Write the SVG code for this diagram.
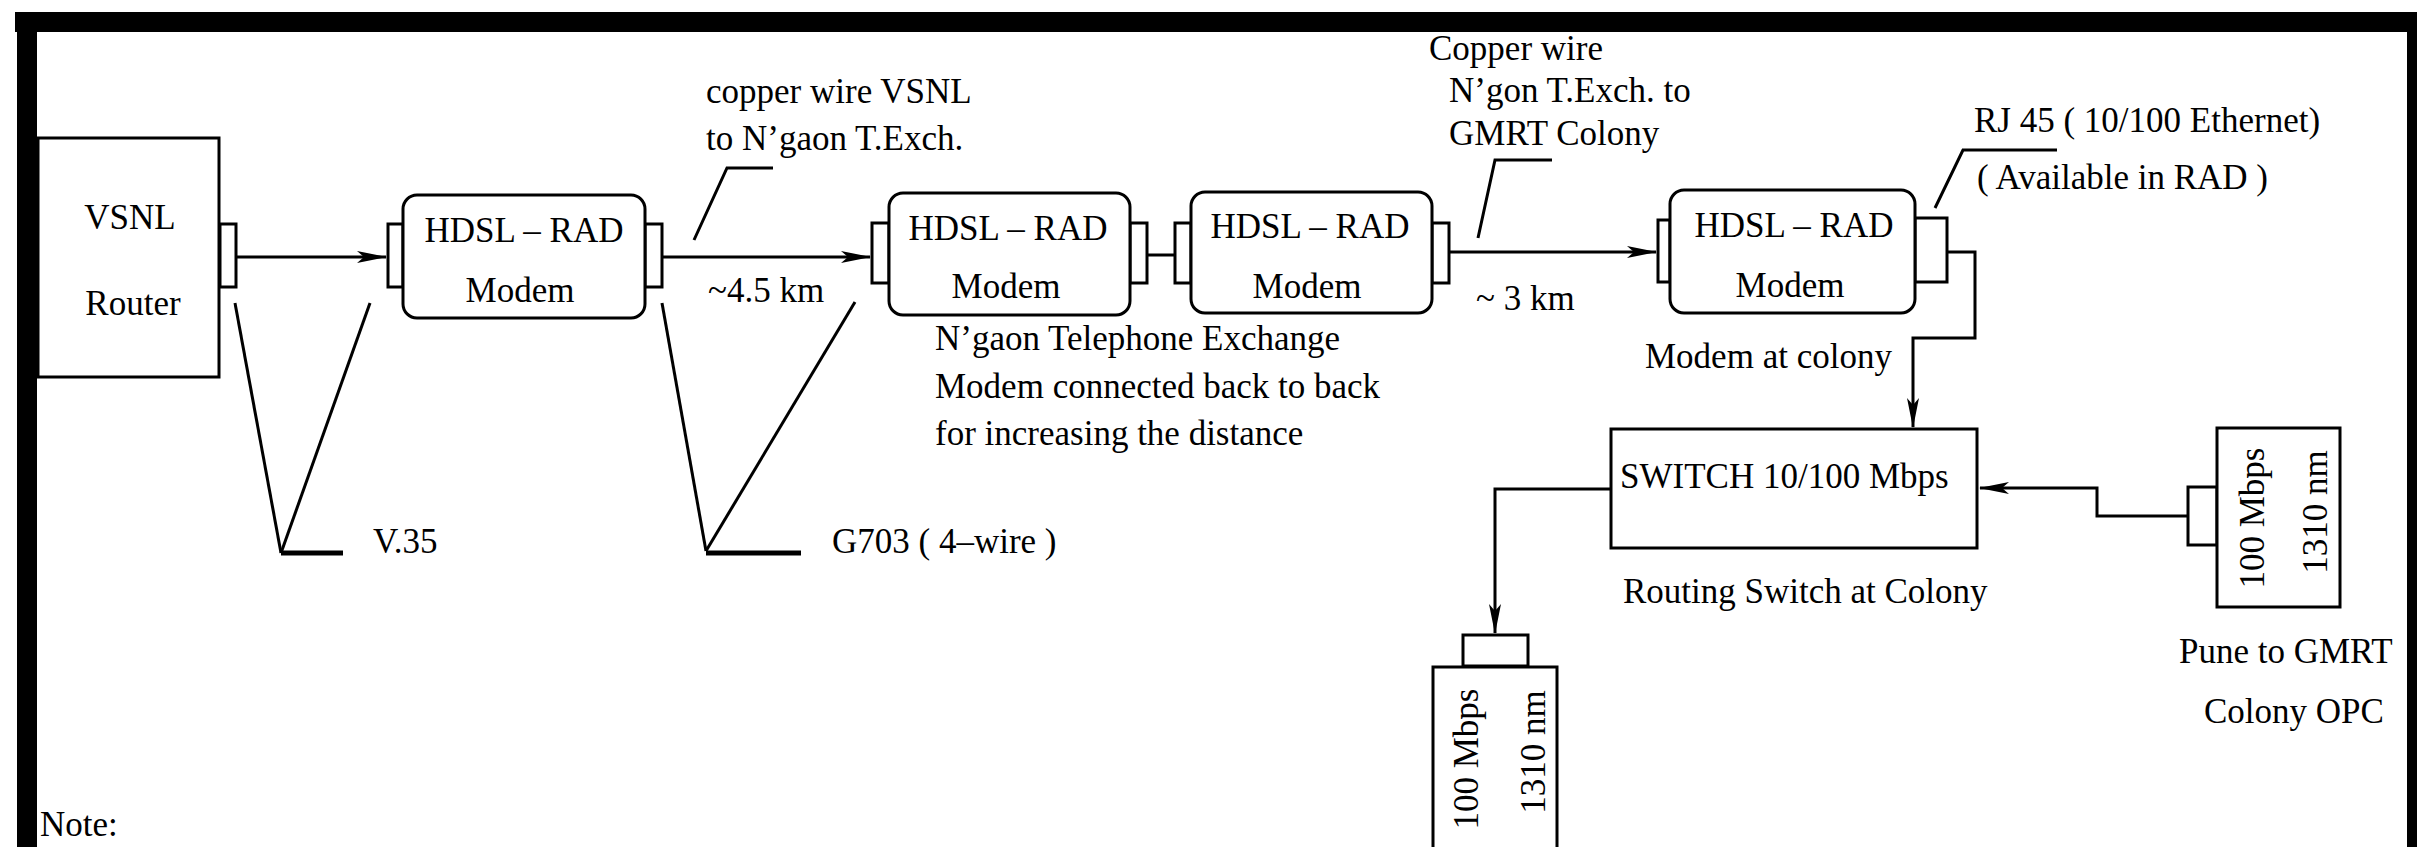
<svg xmlns="http://www.w3.org/2000/svg" width="2417" height="847" viewBox="0 0 2417 847">
<style>
text{font-family:"Liberation Serif","Times New Roman",serif;font-size:35px;fill:#000}
.box{fill:#fff;stroke:#000;stroke-width:3}
.ln{fill:none;stroke:#000;stroke-width:3}
.bold{fill:none;stroke:#000;stroke-width:5}
.mid{text-anchor:middle}
</style>
<defs>
<marker id="ah" markerUnits="userSpaceOnUse" markerWidth="30" markerHeight="14" refX="29" refY="7" orient="auto">
<path d="M0,1 L30,7 L0,13 L7,7 z" fill="#000"/>
</marker>
</defs>
<rect width="2417" height="847" fill="#fff"/>
<g id="frame">
<rect x="15" y="12" width="2402" height="20" fill="#000"/>
<rect x="17" y="12" width="20" height="835" fill="#000"/>
<rect x="2407" y="12" width="10" height="835" fill="#000"/>
</g>
<g id="connectors">
<path class="ln" d="M236,257 H386" marker-end="url(#ah)"/>
<path class="ln" d="M662,257 H870" marker-end="url(#ah)"/>
<path class="ln" d="M1147,255 H1175"/>
<path class="ln" d="M1449,252 H1656" marker-end="url(#ah)"/>
<path class="ln" d="M1947,252 H1975 V338 H1913 V427" marker-end="url(#ah)"/>
<path class="ln" d="M1611,489 H1495 V633" marker-end="url(#ah)"/>
<path class="ln" d="M2188,516 H2097 V488 H1980" marker-end="url(#ah)"/>
<polyline class="ln" points="235,303 281,553"/>
<polyline class="ln" points="370,303 281,553"/>
<polyline class="bold" points="281,553 343,553"/>
<polyline class="ln" points="662,303 706,551"/>
<polyline class="ln" points="855,302 706,551"/>
<polyline class="bold" points="706,553 801,553"/>
<polyline class="ln" points="694,240 727,168 773,168"/>
<polyline class="ln" points="1478,238 1495,160 1552,160"/>
<polyline class="ln" points="1935,208 1963,150 2057,150"/>
</g>
<g id="router">
<rect class="box" x="38" y="138" width="181" height="239"/>
<rect class="box" x="220" y="224" width="16" height="63"/>
<text class="mid" x="130" y="229">VSNL</text>
<text class="mid" x="133" y="315">Router</text>
</g>
<g id="modem1">
<rect class="box" x="388" y="224" width="15" height="63"/>
<rect class="box" x="645" y="224" width="17" height="63"/>
<rect class="box" x="403" y="195" width="242" height="123" rx="14"/>
<text class="mid" x="524" y="242">HDSL – RAD</text>
<text class="mid" x="520" y="302">Modem</text>
</g>
<g id="modem2">
<rect class="box" x="872" y="223" width="17" height="60"/>
<rect class="box" x="1130" y="223" width="17" height="60"/>
<rect class="box" x="889" y="193" width="241" height="122" rx="14"/>
<text class="mid" x="1008" y="240">HDSL – RAD</text>
<text class="mid" x="1006" y="298">Modem</text>
</g>
<g id="modem3">
<rect class="box" x="1175" y="223" width="16" height="60"/>
<rect class="box" x="1432" y="223" width="17" height="60"/>
<rect class="box" x="1191" y="192" width="241" height="121" rx="14"/>
<text class="mid" x="1310" y="238">HDSL – RAD</text>
<text class="mid" x="1307" y="298">Modem</text>
</g>
<g id="modem4">
<rect class="box" x="1658" y="220" width="12" height="62"/>
<rect class="box" x="1915" y="218" width="32" height="64"/>
<rect class="box" x="1670" y="190" width="245" height="123" rx="14"/>
<text class="mid" x="1794" y="237">HDSL – RAD</text>
<text class="mid" x="1790" y="297">Modem</text>
</g>
<g id="switch">
<rect class="box" x="1611" y="429" width="366" height="119"/>
<text x="1620" y="488">SWITCH 10/100 Mbps</text>
</g>
<g id="fiber-right">
<rect class="box" x="2188" y="487" width="29" height="58"/>
<rect class="box" x="2217" y="428" width="123" height="179"/>
<text class="mid" transform="translate(2264,518) rotate(-90)">100 Mbps</text>
<text class="mid" transform="translate(2327,512) rotate(-90)">1310 nm</text>
</g>
<g id="fiber-bottom">
<rect class="box" x="1463" y="635" width="65" height="31"/>
<rect class="box" x="1433" y="667" width="124" height="200"/>
<text class="mid" transform="translate(1478,759) rotate(-90)">100 Mbps</text>
<text class="mid" transform="translate(1545,752) rotate(-90)">1310 nm</text>
</g>
<g id="labels">
<text x="706" y="103">copper wire VSNL</text>
<text x="706" y="150">to N’gaon T.Exch.</text>
<text x="708" y="302">~4.5 km</text>
<text x="373" y="553">V.35</text>
<text x="832" y="553">G703 ( 4–wire )</text>
<text x="935" y="350">N’gaon Telephone Exchange</text>
<text x="935" y="398">Modem connected back to back</text>
<text x="935" y="445">for increasing the distance</text>
<text x="1429" y="60">Copper wire</text>
<text x="1449" y="102">N’gon T.Exch. to</text>
<text x="1449" y="145">GMRT Colony</text>
<text x="1476" y="310">~ 3 km</text>
<text x="1974" y="132">RJ 45 ( 10/100 Ethernet)</text>
<text x="1977" y="189">( Available in RAD )</text>
<text x="1645" y="368">Modem at colony</text>
<text x="1623" y="603">Routing Switch at Colony</text>
<text x="2179" y="663">Pune to  GMRT</text>
<text x="2204" y="723">Colony OPC</text>
<text x="40" y="836">Note:</text>
</g>
</svg>
